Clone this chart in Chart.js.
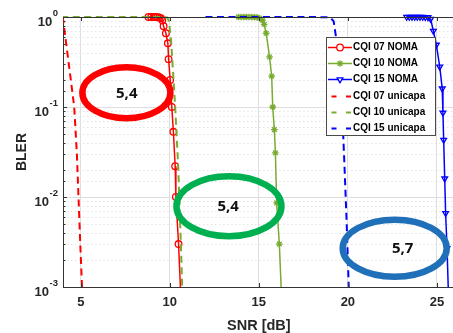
<!DOCTYPE html>
<html>
<head>
<meta charset="utf-8">
<script src="https://cdn.jsdelivr.net/npm/chart.js@4.4.0/dist/chart.umd.min.js"></script>
<style>
  html, body { margin: 0; padding: 0; background: #fff; overflow: hidden; }
  #wrap { width: 453px; height: 333px; overflow: hidden; }
</style>
</head>
<body>
<div id="wrap"><canvas id="grafico" width="460" height="333"></canvas></div>
<script>
// BLER x SNR — NOMA vs unicapa (CQI 07 / 10 / 15)

// NOMA
const snrCqi07Noma = [8.8, 8.95, 9.1, 9.2, 9.3, 9.4, 9.5, 9.58, 9.65, 9.78, 9.89, 9.93, 10.02, 10.11, 10.2, 10.3, 10.34, 10.49, 10.63];
const blerCqi07Noma = [1, 1, 1, 1, 0.995, 0.99, 0.97, 0.92, 0.79, 0.66, 0.51, 0.34, 0.2, 0.1, 0.053, 0.022, 0.01, 0.003, 0.0007];

const snrCqi10Noma = [13.85, 14.0, 14.15, 14.3, 14.45, 14.6, 14.75, 14.9, 15.05, 15.2, 15.3, 15.41, 15.6, 15.72, 15.78, 15.87, 15.93, 16.0, 16.15, 16.3];
const blerCqi10Noma = [1, 1, 1, 1, 1, 1, 0.995, 0.99, 0.97, 0.92, 0.83, 0.66, 0.36, 0.22, 0.1, 0.056, 0.031, 0.0086, 0.003, 0.0006];

const snrCqi15Noma = [23.3, 23.45, 23.6, 23.75, 23.9, 24.05, 24.2, 24.35, 24.5, 24.65, 24.8, 24.97, 25.16, 25.3, 25.34, 25.38, 25.44, 25.49, 25.57, 25.67];
const blerCqi15Noma = [1, 1, 1, 1, 1, 1, 1, 0.995, 0.99, 0.95, 0.7, 0.49, 0.28, 0.16, 0.086, 0.043, 0.016, 0.0066, 0.0027, 0.0006];

// unicapa
const snrCqi07Uni = [3.9, 4.01, 4.17, 4.44, 4.63, 4.78, 4.87, 4.97, 5.07, 5.12];
const blerCqi07Uni = [1, 0.93, 0.52, 0.2, 0.1, 0.03, 0.01, 0.003, 0.001, 0.0006];

const snrCqi10Uni = [3.9, 6, 8, 9.5, 9.85, 9.95, 10.07, 10.18, 10.3, 10.47, 10.62, 10.72];
const blerCqi10Uni = [1, 1, 1, 1, 0.99, 0.9, 0.55, 0.25, 0.1, 0.022, 0.003, 0.0007];

const snrCqi15Uni = [12, 14, 16, 18, 19.0, 19.2, 19.5, 19.68, 19.81, 19.92, 20.05, 20.12];
const blerCqi15Uni = [1, 1, 1, 1, 0.99, 0.9, 0.36, 0.093, 0.022, 0.006, 0.001, 0.0005];

// eixos
const snrTicks = [5, 10, 15, 20, 25];
const blerDecades = [1, 0.1, 0.01, 0.001];

// destaques (ganho em dB)
const ganhoTexto = ['5,4', '5,4', '5,7'];
const ganhoSnr = [7.56, 13.32, 22.63];
const ganhoBler = [0.144, 0.0079, 0.0027];
const ganhoTextoSnr = [7.58, 13.28, 23.08];

const ELIPSES = [
  { rx: 44, ry: 25.5, cor: '#ff0000' },
  { rx: 52.5, ry: 30, cor: '#00b050' },
  { rx: 52, ry: 28.5, cor: '#1f70b8' }
];

const VERMELHO = '#ff0000', VERDE = '#77ac30', AZUL = '#0000ff';
const FONTE = '"Liberation Sans", Arial, sans-serif';
const TXT = '#262626';

function pares(xs, ys) { return xs.map((x, i) => ({ x, y: ys[i] })); }
function ehDecada(v) { const l = Math.log10(v); return Math.abs(l - Math.round(l)) < 1e-6; }

const clipArea = { left: 0, top: 6, right: 6, bottom: 0 };

function curvaNoma(label, xs, ys, cor, estilo, rot) {
  return {
    label, data: pares(xs, ys), borderColor: cor, backgroundColor: cor,
    borderWidth: 1.5, tension: 0, order: 2, clip: clipArea,
    pointStyle: estilo, pointRotation: rot, pointRadius: 3.3,
    pointBorderWidth: 1.3, pointBorderColor: cor, pointBackgroundColor: 'rgba(255,255,255,0)'
  };
}
function curvaUni(label, xs, ys, cor) {
  return {
    label, data: pares(xs, ys), borderColor: cor, backgroundColor: cor,
    borderWidth: 2, borderDash: [7, 4.5], tension: 0, order: 1, clip: clipArea,
    pointRadius: 0, unicapa: true
  };
}

// grade menor pontilhada, marcas internas, rótulos 10^n, destaques e legenda
const decoracao = {
  id: 'decoracao',
  beforeDatasetsDraw(chart) {
    const { ctx, chartArea: a, scales: { y } } = chart;
    ctx.save();
    ctx.strokeStyle = '#e4e4e4';
    ctx.lineWidth = 1;
    ctx.setLineDash([1.5, 2.5]);
    y.ticks.forEach(t => {
      if (ehDecada(t.value)) return;
      const py = Math.round(y.getPixelForValue(t.value)) + 0.5;
      ctx.beginPath(); ctx.moveTo(a.left, py); ctx.lineTo(a.right, py); ctx.stroke();
    });
    ctx.restore();
  },
  afterDatasetsDraw(chart) {
    const { ctx, chartArea: a, scales: { x, y } } = chart;
    ctx.save();

    // borda superior
    ctx.strokeStyle = '#333';
    ctx.lineWidth = 1;
    ctx.beginPath(); ctx.moveTo(a.left, Math.round(a.top) + 0.5); ctx.lineTo(a.right, Math.round(a.top) + 0.5); ctx.stroke();

    // marcas internas
    y.ticks.forEach(t => {
      const py = Math.round(y.getPixelForValue(t.value)) + 0.5;
      const len = ehDecada(t.value) ? 4 : 2.5;
      ctx.beginPath(); ctx.moveTo(a.left, py); ctx.lineTo(a.left + len, py); ctx.stroke();
    });
    snrTicks.forEach(v => {
      const px = Math.round(x.getPixelForValue(v)) + 0.5;
      ctx.beginPath();
      ctx.moveTo(px, a.bottom); ctx.lineTo(px, a.bottom - 4);
      ctx.moveTo(px, a.top); ctx.lineTo(px, a.top + 4);
      ctx.stroke();
    });

    // rótulos 10^n
    ctx.fillStyle = TXT;
    ctx.textBaseline = 'middle';
    blerDecades.forEach(v => {
      const py = y.getPixelForValue(v);
      const exp = String(Math.round(Math.log10(v)));
      ctx.font = 'bold 9.5px ' + FONTE;
      ctx.textAlign = 'right';
      const wExp = ctx.measureText(exp).width;
      const xr = a.left - 5;
      ctx.fillText(exp, xr, py - 3.5);
      ctx.font = 'bold 13px ' + FONTE;
      ctx.fillText('10', xr - wExp - 0.5, py + 5);
    });

    // destaques
    ganhoSnr.forEach((s, i) => {
      const e = ELIPSES[i];
      const cx = x.getPixelForValue(s), cy = y.getPixelForValue(ganhoBler[i]);
      ctx.beginPath();
      ctx.ellipse(cx, cy, e.rx, e.ry, 0, 0, Math.PI * 2);
      ctx.lineWidth = 6.5;
      ctx.strokeStyle = e.cor;
      ctx.stroke();
      ctx.fillStyle = '#111';
      ctx.font = 'bold 15px "Noto Sans", "Open Sans", sans-serif';
      ctx.textAlign = 'center';
      ctx.textBaseline = 'middle';
      ctx.fillText(ganhoTexto[i], x.getPixelForValue(ganhoTextoSnr[i]), cy + 1);
    });

    // legenda
    const lx = 326, ly = 37, lw = 109, lh = 98;
    ctx.fillStyle = '#fff';
    ctx.fillRect(lx, ly, lw, lh);
    ctx.strokeStyle = '#4a4a4a';
    ctx.lineWidth = 1;
    ctx.strokeRect(lx + 0.5, ly + 0.5, lw, lh);
    chart.data.datasets.forEach((ds, i) => {
      const cy = Math.round(46.7 + i * 16.3) + 0.5;
      ctx.strokeStyle = ds.borderColor;
      if (ds.unicapa) {
        ctx.lineWidth = 2;
        ctx.setLineDash([5, 9.5]);
        ctx.beginPath(); ctx.moveTo(331.5, cy); ctx.lineTo(352, cy); ctx.stroke();
        ctx.setLineDash([]);
      } else {
        ctx.lineWidth = 1.5;
        ctx.beginPath(); ctx.moveTo(328, cy); ctx.lineTo(352, cy); ctx.stroke();
        ctx.lineWidth = 1.3;
        ctx.fillStyle = '#fff';
        Chart.helpers.drawPoint(ctx, { pointStyle: ds.pointStyle, rotation: ds.pointRotation || 0, radius: 3.3, borderWidth: 1.3 }, 340, cy);
      }
      ctx.fillStyle = '#000';
      ctx.font = 'bold 10px ' + FONTE;
      ctx.textAlign = 'left';
      ctx.textBaseline = 'middle';
      ctx.fillText(ds.label, 353, cy);
    });

    ctx.restore();
  }
};

Chart.defaults.font.family = FONTE;
Chart.defaults.color = TXT;

new Chart(document.getElementById('grafico'), {
  type: 'line',
  data: {
    datasets: [
      curvaNoma('CQI 07 NOMA', snrCqi07Noma, blerCqi07Noma, VERMELHO, 'circle', 0),
      curvaNoma('CQI 10 NOMA', snrCqi10Noma, blerCqi10Noma, VERDE, 'star', 0),
      curvaNoma('CQI 15 NOMA', snrCqi15Noma, blerCqi15Noma, AZUL, 'triangle', 180),
      curvaUni('CQI 07 unicapa', snrCqi07Uni, blerCqi07Uni, VERMELHO),
      curvaUni('CQI 10 unicapa', snrCqi10Uni, blerCqi10Uni, VERDE),
      curvaUni('CQI 15 unicapa', snrCqi15Uni, blerCqi15Uni, AZUL)
    ]
  },
  options: {
    responsive: false,
    animation: false,
    layout: { padding: { left: 0, top: 17, right: 1, bottom: 0 } },
    plugins: { legend: { display: false }, tooltip: { enabled: false } },
    scales: {
      x: {
        type: 'linear', min: 4, max: 26,
        afterBuildTicks: s => { s.ticks = snrTicks.map(v => ({ value: v })); },
        afterFit: s => { s.height = 46; },
        ticks: { padding: 8, color: TXT, font: { size: 13, weight: 'bold' } },
        grid: { color: '#dedede', lineWidth: 1, drawTicks: false },
        border: { color: '#333', width: 1 },
        title: { display: true, text: 'SNR [dB]', color: TXT, padding: 0, font: { size: 14.5, weight: 'bold', lineHeight: 1 } }
      },
      y: {
        type: 'logarithmic', min: 0.001, max: 1,
        afterFit: s => { s.width = 63; },
        ticks: { display: false },
        grid: { drawTicks: false, color: c => (c.tick && ehDecada(c.tick.value)) ? '#dedede' : 'rgba(0,0,0,0)' },
        border: { color: '#333', width: 1 },
        title: { display: true, text: 'BLER', color: TXT, padding: { top: 14, bottom: 0 }, font: { size: 14, weight: 'bold', lineHeight: 1.2 } }
      }
    }
  },
  plugins: [decoracao]
});
</script>
</body>
</html>
